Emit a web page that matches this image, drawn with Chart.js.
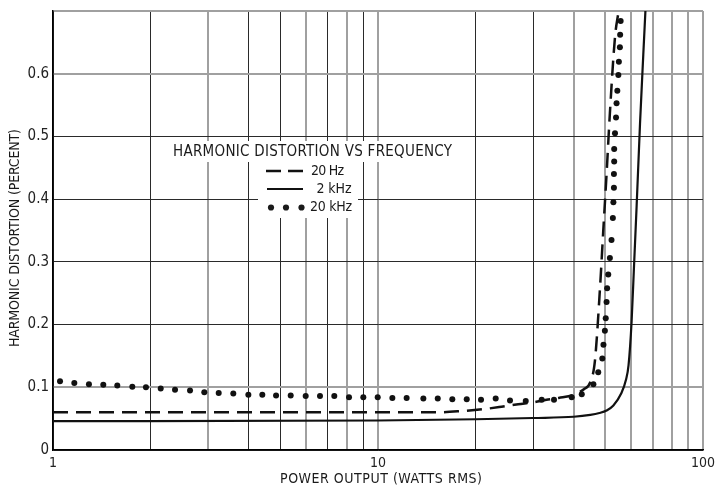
<!DOCTYPE html>
<html><head><meta charset="utf-8">
<script src="https://cdn.jsdelivr.net/npm/chart.js@4/dist/chart.umd.min.js"></script>
<style>html,body{margin:0;padding:0;background:#fff}#wrap{width:715px;height:490px;position:relative}</style>
</head><body><div id="wrap"><canvas id="c" width="715" height="490"></canvas></div>
<script>
// ---- data ----
const xGridValues = [1,2,3,4,5,6,7,8,9,10,20,30,40,50,60,70,80,90,100];
const xLabelled = [1,10,100];
const xGrayLines = [3,6,8,10,40,50,60,70,80,90,100];
const yTickValues = [0,0.1,0.2,0.3,0.4,0.5,0.6,0.7];
const yTickLabels = ['0','0.1','0.2','0.3','0.4','0.5','0.6',''];
const yGrayLines = [0.1,0.6,0.7];

const power20Hz = [1,5,10,15,18,21,24,27,30,33,36,40,43,45,46.5,48.2,49.3,50.5,51.7,53.6,55];
const dist20Hz  = [0.060,0.060,0.060,0.060,0.062,0.065,0.069,0.073,0.076,0.080,0.083,0.088,0.097,0.108,0.142,0.258,0.347,0.44,0.537,0.658,0.70];

const power2kHz = [1,10,20,30,40,45,48,50.5,53,56,58,59,60.3,61.3,62.5,64,65.5,66.5];
const dist2kHz  = [0.046,0.047,0.049,0.051,0.053,0.056,0.059,0.063,0.071,0.09,0.113,0.135,0.205,0.29,0.39,0.52,0.63,0.70];

const power20kHz = [1.051,1.163,1.290,1.428,1.577,1.754,1.932,2.145,2.374,2.640,2.921,3.235,3.587,3.991,4.406,4.857,5.388,5.991,6.630,7.337,8.143,9.012,9.98,11.07,12.25,13.79,15.27,16.93,18.75,20.75,23.02,25.48,28.48,31.89,34.80,39.45,42.36,
  46.0,47.6,49.0,49.4,49.9,50.2,50.5,50.7,51.1,51.7,52.3,52.8,53.0,53.2,53.2,53.3,53.3,53.6,54.0,54.2,54.5,54.9,55.1,55.5,55.6,55.8];
const dist20kHz  = [0.1095,0.107,0.105,0.104,0.103,0.101,0.100,0.098,0.096,0.095,0.092,0.091,0.090,0.088,0.088,0.087,0.087,0.086,0.086,0.086,0.084,0.084,0.084,0.083,0.083,0.082,0.082,0.081,0.081,0.080,0.082,0.079,0.078,0.080,0.080,0.084,0.089,
  0.105,0.124,0.146,0.168,0.19,0.21,0.236,0.258,0.28,0.306,0.335,0.37,0.395,0.418,0.44,0.46,0.48,0.505,0.53,0.553,0.573,0.598,0.619,0.642,0.662,0.684];

const legendTitle = 'HARMONIC DISTORTION VS FREQUENCY';
const seriesNames = ['20 Hz','2 kHz','20 kHz'];
const xTitle = 'POWER OUTPUT (WATTS RMS)';
const yTitle = 'HARMONIC DISTORTION (PERCENT)';

const FONT = "'Liberation Sans Narrow','DejaVu Sans Condensed','Liberation Sans',sans-serif";
const pts = (xs, ys) => xs.map((x,i)=>({x, y: ys[i]}));

function spacedText(ctx, text, cx, cy, width, rotate) {
  ctx.save();
  ctx.translate(cx, cy);
  if (rotate) ctx.rotate(-Math.PI/2);
  ctx.letterSpacing = '0px';
  const w = ctx.measureText(text).width;
  const ls = (width - w) / (text.length - 1);
  ctx.letterSpacing = ls + 'px';
  ctx.textAlign = 'left';
  ctx.textBaseline = 'middle';
  ctx.fillText(text, -width/2, 0);
  ctx.restore();
}

const overlay = {
  id: 'overlay',
  beforeDraw(chart) {
    const c = chart.ctx; c.save(); c.fillStyle = '#fff';
    c.fillRect(0,0,chart.width,chart.height); c.restore();
  },
  beforeDatasetsDraw(chart) {
    const c = chart.ctx; c.save(); c.fillStyle = '#fff';
    c.fillRect(168,141,290,21);
    c.fillRect(258,162,100,56);
    c.restore();
  },
  afterDraw(chart) {
    const c = chart.ctx; c.save();
    c.fillStyle = '#1a1a1a'; c.strokeStyle = '#111';
    c.font = '15px ' + FONT;
    spacedText(c, legendTitle, 312.5, 152, 279);
    // legend samples
    c.lineWidth = 2.5; c.setLineDash([15,7]);
    c.beginPath(); c.moveTo(266,171); c.lineTo(303,171); c.stroke();
    c.setLineDash([]); c.lineWidth = 2.2;
    c.beginPath(); c.moveTo(267,189); c.lineTo(303,189); c.stroke();
    [271,286,301.5].forEach(x=>{ c.beginPath(); c.arc(x,207.5,3.1,0,Math.PI*2); c.fill(); });
    c.font = '14px ' + FONT;
    spacedText(c, seriesNames[0], 327.5, 171, 33);
    spacedText(c, seriesNames[1], 334, 189, 35);
    spacedText(c, seriesNames[2], 331, 207.5, 42);
    // axis titles
    c.font = '14px ' + FONT;
    spacedText(c, xTitle, 381, 479, 202);
    spacedText(c, yTitle, 15, 238, 218, true);
    c.restore();
  }
};

new Chart(document.getElementById('c'), {
  type: 'line',
  data: {
    datasets: [
      { label: seriesNames[0], data: pts(power20Hz, dist20Hz), borderColor:'#111', borderWidth:2.5,
        borderDash:[15,8], pointRadius:0, cubicInterpolationMode:'monotone', fill:false },
      { label: seriesNames[1], data: pts(power2kHz, dist2kHz), borderColor:'#111', borderWidth:2.2,
        pointRadius:0, cubicInterpolationMode:'monotone', fill:false },
      { label: seriesNames[2], data: pts(power20kHz, dist20kHz), showLine:false, borderColor:'#111',
        pointRadius:3, pointBorderWidth:0, pointBackgroundColor:'#111' }
    ]
  },
  options: {
    responsive:false, animation:false, devicePixelRatio:1,
    layout:{ padding:{ left:0, right:12, top:11, bottom:0 } },
    plugins:{ legend:{display:false}, tooltip:{enabled:false}, title:{display:false} },
    scales:{
      x:{ type:'logarithmic', min:1, max:100,
        afterBuildTicks(s){ s.ticks = xGridValues.map(v=>({value:v})); },
        afterFit(s){ s.height = 40; s.paddingLeft = 0; s.paddingRight = 0; },
        ticks:{ autoSkip:false, maxRotation:0, padding:5, color:'#222',
          font:{ family:FONT, size:14 },
          callback(v){ return xLabelled.includes(v) ? String(v) : ''; } },
        grid:{ drawTicks:false,
          color:(ctx)=> ctx.tick && xGrayLines.includes(ctx.tick.value) ? '#a0a0a0' : '#2a2a2a',
          lineWidth:(ctx)=> ctx.tick && xGrayLines.includes(ctx.tick.value) ? 2 : 1 },
        border:{ display:true, color:'#000', width:1.5 },
        title:{ display:false }
      },
      y:{ type:'linear', min:0, max:0.7,
        afterBuildTicks(s){ s.ticks = yTickValues.map(v=>({value:v})); },
        afterFit(s){ s.width = 53; s.paddingTop = 0; s.paddingBottom = 0; },
        ticks:{ autoSkip:false, padding:4, color:'#222', font:{ family:FONT, size:15 },
          callback(v, i){ return yTickLabels[i]; } },
        grid:{ drawTicks:false,
          color:(ctx)=> ctx.tick && yGrayLines.some(g=>Math.abs(g-ctx.tick.value)<1e-6) ? '#a0a0a0' : '#2a2a2a',
          lineWidth:(ctx)=> ctx.tick && yGrayLines.some(g=>Math.abs(g-ctx.tick.value)<1e-6) ? 2 : 1 },
        border:{ display:true, color:'#000', width:1.5 },
        title:{ display:false }
      }
    }
  },
  plugins:[overlay]
});
</script>
</body></html>
